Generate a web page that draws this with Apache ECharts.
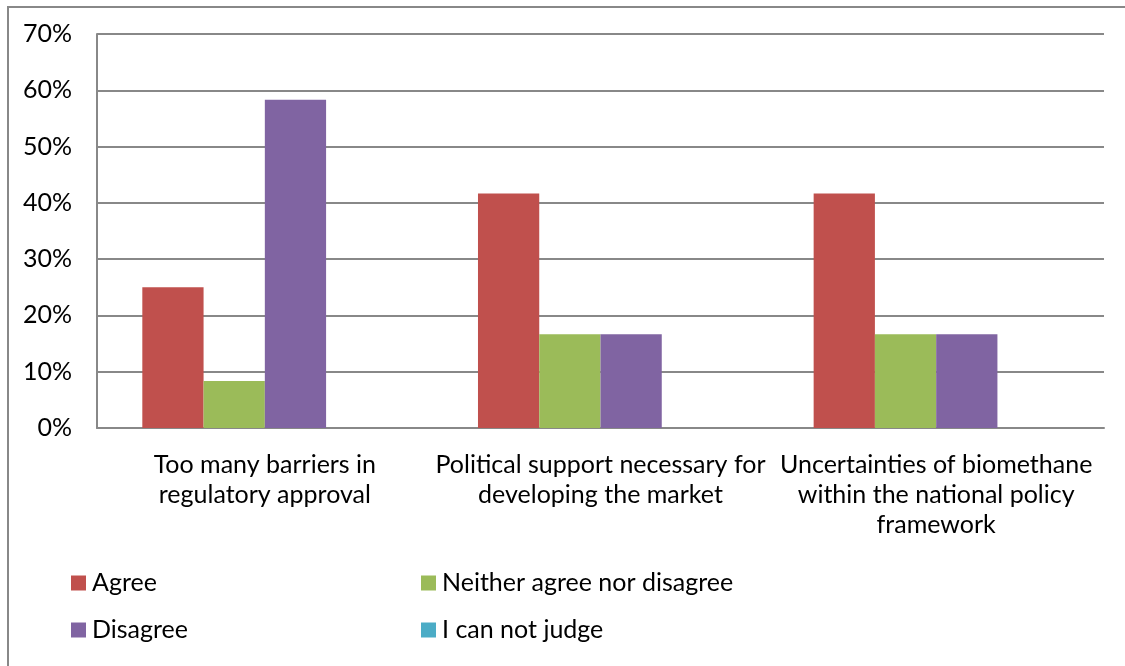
<!DOCTYPE html>
<html>
<head>
<meta charset="utf-8">
<script src="https://cdn.jsdelivr.net/npm/echarts@6/dist/echarts.min.js"></script>
<style>
  html, body { margin: 0; padding: 0; background: #fff; }
  #chart { width: 1125px; height: 666px; }
</style>
</head>
<body>
<div id="chart"></div>
<script>
// Survey statements (category axis)
const categories = [
  'Too many barriers in\nregulatory approval',
  'Political support necessary for\ndeveloping the market',
  'Uncertainties of biomethane\nwithin the national policy\nframework'
];

// Share of respondents per answer, in percent
const agree = [25.0, 41.67, 41.67];
const neither = [8.33, 16.67, 16.67];
const disagree = [58.33, 16.67, 16.67];
const cannotJudge = [0, 0, 0];

const seriesNames = ['Agree', 'Neither agree nor disagree', 'Disagree', 'I can not judge'];
const seriesColors = ['#C0504D', '#9BBB59', '#8064A2', '#4BACC6'];
const seriesData = [agree, neither, disagree, cannotJudge];

const yTicks = [0, 10, 20, 30, 40, 50, 60, 70];

const FONT = 'Lato';
const chart = echarts.init(document.getElementById('chart'));

// One legend block per entry, laid out as a 2x2 grid below the plot
function legendAt(name, left, top) {
  return {
    data: [name],
    left: left,
    top: top,
    padding: 0,
    icon: 'rect',
    itemWidth: 15,
    itemHeight: 15,
    itemGap: 6,
    textStyle: { fontFamily: FONT, fontSize: 25, lineHeight: 30, color: '#000', padding: [0, 0, 0, 1] }
  };
}

chart.setOption({
  animation: false,
  textStyle: { fontFamily: FONT },
  graphic: [{
    type: 'rect',
    shape: { x: 8, y: 7, width: 1130, height: 680 },
    style: { fill: 'none', stroke: '#888', lineWidth: 2 },
    silent: true
  }],
  grid: { left: 97, right: 21, top: 34, bottom: 238, containLabel: false },
  legend: [
    legendAt(seriesNames[0], 71, 568),
    legendAt(seriesNames[1], 421, 568),
    legendAt(seriesNames[2], 71, 615),
    legendAt(seriesNames[3], 421, 615)
  ],
  xAxis: {
    type: 'category',
    data: categories,
    axisLine: { lineStyle: { color: '#888', width: 2 } },
    axisTick: { show: false },
    axisLabel: {
      fontFamily: FONT, fontSize: 25, color: '#000',
      lineHeight: 30, margin: 22, interval: 0
    }
  },
  yAxis: {
    type: 'value',
    min: yTicks[0],
    max: yTicks[yTicks.length - 1],
    interval: 10,
    axisLine: { show: true, lineStyle: { color: '#888', width: 2 } },
    axisTick: { show: false },
    axisLabel: {
      fontFamily: FONT, fontSize: 25, color: '#000', margin: 25,
      formatter: '{value}%'
    },
    splitLine: { lineStyle: { color: '#888', width: 2 } }
  },
  series: seriesNames.map((name, i) => ({
    name: name,
    type: 'bar',
    data: seriesData[i],
    barGap: '0%',
    barCategoryGap: '27%',
    itemStyle: { color: seriesColors[i] }
  }))
});
</script>
</body>
</html>
